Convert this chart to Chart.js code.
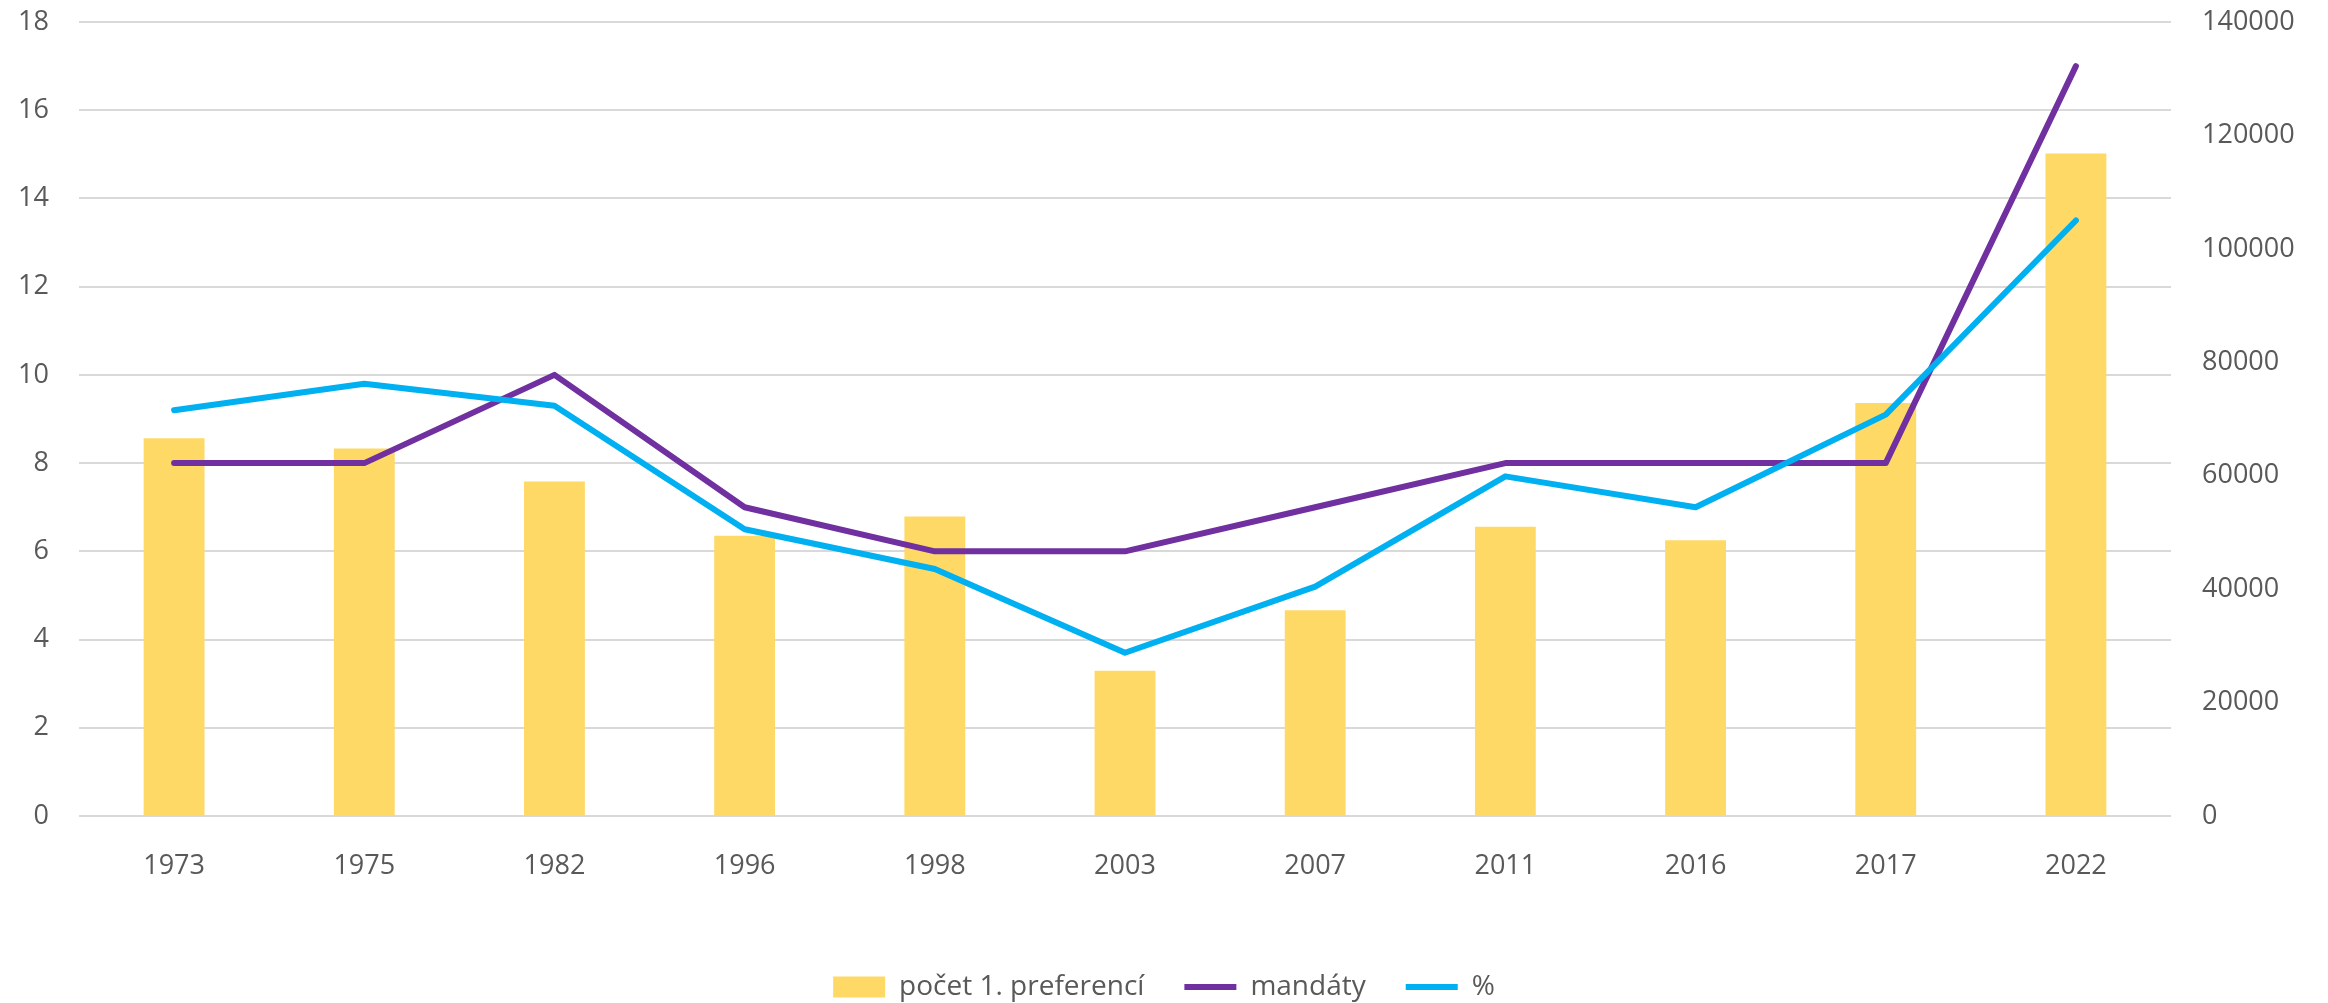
<!DOCTYPE html>
<html>
<head>
<meta charset="utf-8">
<script src="https://cdn.jsdelivr.net/npm/chart.js@4"></script>
<style>
  html, body { margin: 0; padding: 0; background: #fff; }
  #wrap { width: 2328px; height: 1003px; }
</style>
</head>
<body>
<div id="wrap"><canvas id="chart"></canvas></div>
<script>
var years = ['1973', '1975', '1982', '1996', '1998', '2003', '2007', '2011', '2016', '2017', '2022'];
var prefVotes = [66600, 64800, 59000, 49400, 52800, 25600, 36300, 51000, 48600, 72800, 116800];
var mandates = [8, 8, 10, 7, 6, 6, 7, 8, 8, 8, 17];
var percent = [9.2, 9.8, 9.3, 6.5, 5.6, 3.7, 5.2, 7.7, 7.0, 9.1, 13.5];

var grey = '#595959';
Chart.defaults.font.family = "'Open Sans', sans-serif";
Chart.defaults.font.size = 27;
Chart.defaults.color = grey;

// keep the y axes from pushing the plot down / up
function noVertPad(scale) {
  scale.paddingTop = 0;
  scale.paddingBottom = 0;
}

var ctx = document.getElementById('chart').getContext('2d');

var chart = new Chart(ctx, {
  type: 'bar',
  data: {
    labels: years,
    datasets: [{
      label: 'počet 1. preferencí',
      data: prefVotes,
      backgroundColor: '#FFD966',
      borderWidth: 0,
      yAxisID: 'y1',
      categoryPercentage: 1,
      barPercentage: 0.32,
      pointStyle: 'rect',
      order: 3
    }, {
      type: 'line',
      label: 'mandáty',
      data: mandates,
      borderColor: '#7030A0',
      backgroundColor: '#7030A0',
      borderWidth: 6,
      borderCapStyle: 'round',
      borderJoinStyle: 'round',
      pointRadius: 0,
      pointStyle: 'line',
      tension: 0,
      yAxisID: 'y',
      order: 2
    }, {
      type: 'line',
      label: '%',
      data: percent,
      borderColor: '#00B0F0',
      backgroundColor: '#00B0F0',
      borderWidth: 6,
      borderCapStyle: 'round',
      borderJoinStyle: 'round',
      pointRadius: 0,
      pointStyle: 'line',
      tension: 0,
      yAxisID: 'y',
      order: 1
    }]
  },
  options: {
    responsive: true,
    maintainAspectRatio: false,
    animation: false,
    layout: {
      padding: { top: 22, left: 0, right: 0, bottom: -8 }
    },
    plugins: {
      tooltip: { enabled: false },
      legend: {
        position: 'bottom',
        labels: {
          usePointStyle: true,
          pointStyleWidth: 52,
          boxHeight: 21,
          padding: 40,
          color: grey,
          font: { size: 28 },
          sort: function (a, b) { return a.datasetIndex - b.datasetIndex; }
        }
      }
    },
    scales: {
      x: {
        grid: { display: false },
        border: { display: false },
        ticks: { padding: 26, color: grey },
        afterFit: function (scale) { scale.height = 117; }
      },
      y: {
        position: 'left',
        min: 0,
        max: 18,
        ticks: { stepSize: 2, padding: 30, color: grey },
        grid: { color: '#D9D9D9', lineWidth: 2, drawTicks: false },
        border: { display: false },
        afterFit: function (scale) { scale.width = 79; noVertPad(scale); }
      },
      y1: {
        position: 'right',
        min: 0,
        max: 140000,
        ticks: {
          stepSize: 20000,
          padding: 31,
          color: grey,
          callback: function (v) { return String(v); }
        },
        grid: { display: false, drawTicks: false },
        border: { display: false },
        afterFit: function (scale) { scale.width = 157; noVertPad(scale); }
      }
    }
  }
});
</script>
</body>
</html>
